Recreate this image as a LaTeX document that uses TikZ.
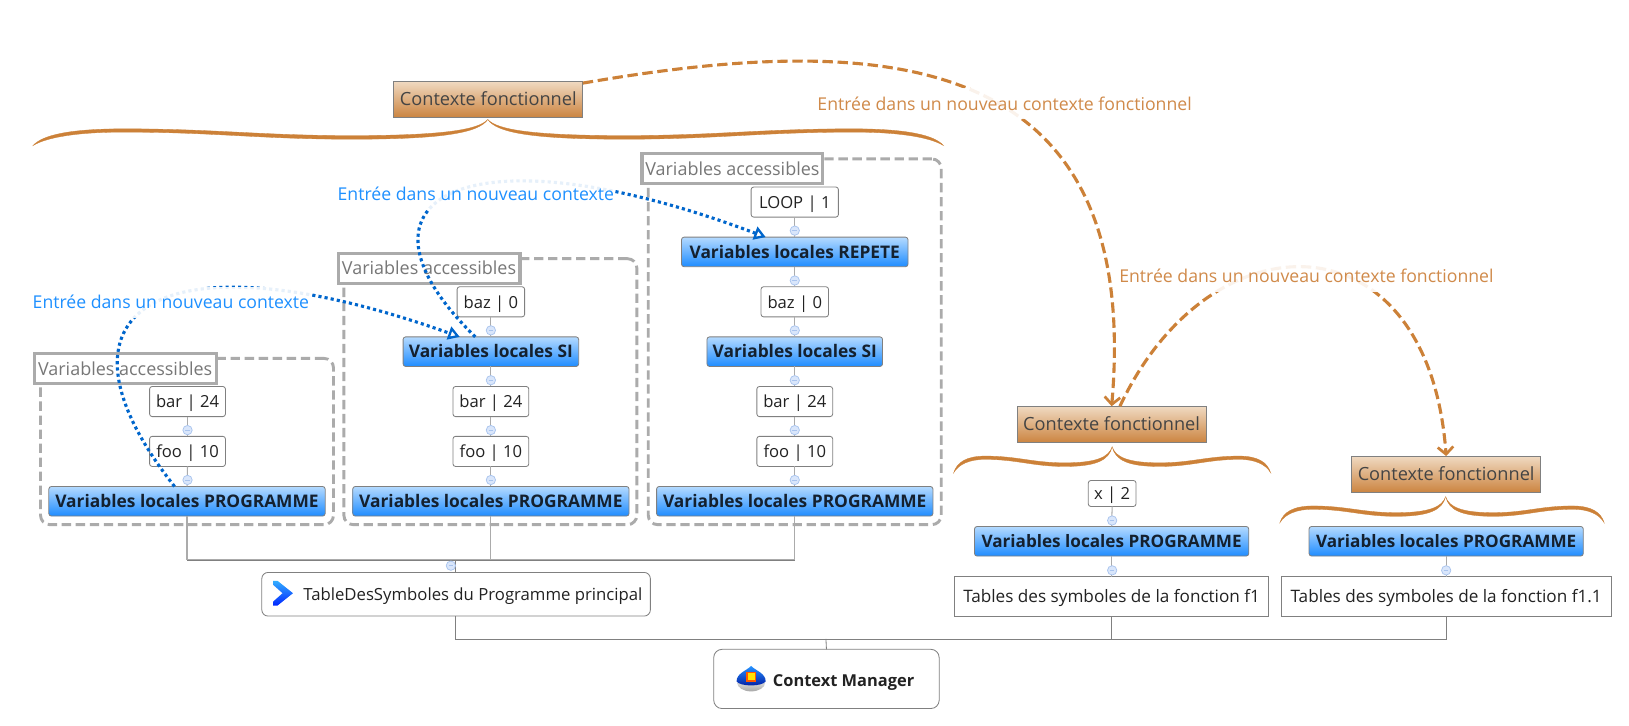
\documentclass[tikz,border=0pt]{standalone}
\usepackage{fontspec}
\setmainfont{Open Sans}
\usetikzlibrary{arrows.meta,shapes.geometric}
\definecolor{ctxo}{HTML}{CC8138}
\definecolor{ctxlab}{HTML}{D08A4A}
\definecolor{blued}{HTML}{0066CC}
\definecolor{bluelab}{HTML}{1E90FF}
\definecolor{grp}{HTML}{ABABAB}
\definecolor{bord}{HTML}{808080}
\definecolor{txt}{HTML}{222222}
\definecolor{varT}{HTML}{B4DAFF}
\definecolor{varB}{HTML}{1E8CFF}
\definecolor{varText}{HTML}{14202E}
\definecolor{ctxT}{HTML}{F0DAC2}
\definecolor{ctxB}{HTML}{CB8440}
\definecolor{ctxText}{HTML}{444444}
\definecolor{grpText}{HTML}{777777}
\definecolor{dotB}{HTML}{A9C4EE}
\definecolor{dotF}{HTML}{D9E6FB}
\tikzset{
  every node/.style={inner sep=0pt,outer sep=0pt},
  tx/.style={text height=14pt,text depth=2pt},
  valbox/.style={tx,draw=bord,fill=white,rounded corners=2.5pt,line width=.8pt,text=txt,font=\fontsize{16}{20}\selectfont,minimum height=29pt},
  varbox/.style={tx,draw=bord,rounded corners=2.5pt,line width=.8pt,top color=varT,bottom color=varB,text=varText,font=\fontsize{16.7}{20}\selectfont\bfseries,minimum height=28.5pt},
  ctxbox/.style={tx,draw=bord,line width=.8pt,top color=ctxT,bottom color=ctxB,text=ctxText,font=\fontsize{17.5}{20}\selectfont,minimum height=35pt,minimum width=182pt},
  tabbox/.style={tx,draw=bord,line width=.8pt,fill=white,text=txt,font=\fontsize{16.5}{20}\selectfont,minimum height=38pt},
  grpbox/.style={draw=grp,line width=2.8pt,dash pattern=on 9pt off 4.5pt,rounded corners=9pt},
  grplab/.style={tx,draw=grp,fill=white,line width=3pt,text=grpText,font=\fontsize{17.3}{20}\selectfont,minimum height=29pt},
  link/.style={draw=grp,line width=1pt},
  tree/.style={draw=bord,line width=.8pt},
  dotnode/.style={circle,draw=dotB,fill=dotF,line width=.7pt,minimum size=9pt,
    path picture={\draw[dotB,line width=.7pt] ([xshift=-2.2pt]path picture bounding box.center) -- ([xshift=2.2pt]path picture bounding box.center);}},
  rlabB/.style={tx,fill=white,fill opacity=.9,text opacity=1,text=bluelab,font=\fontsize{17}{20}\selectfont,inner xsep=1pt,minimum height=30pt},
  rlabO/.style={tx,fill=white,fill opacity=.9,text opacity=1,text=ctxlab,font=\fontsize{17}{20}\selectfont,inner xsep=1pt,minimum height=30pt},
  relB/.style={draw=blued,line width=3pt,dash pattern=on 3pt off 3pt,-{Triangle[open,length=11pt,width=13pt,line width=2.2pt]}},
  relO/.style={draw=ctxo,line width=3pt,dash pattern=on 10pt off 4.5pt,-{Straight Barb[length=7pt,width=15pt,line width=2.6pt]}},
  bracefill/.style={fill=ctxo,draw=ctxo,line width=.3pt},
}
\newcommand{\halfbrace}[3]{%
  \begin{scope}[shift={(#1,#2)},xscale=#3]
    \path[bracefill] (0,0) .. controls (.02,10) and (.1,15.5) .. (.3,15.5)
      .. controls (.5,15.5) and (.6,9) .. (.8,9)
      .. controls (.92,9) and (.98,15) .. (1,25)
      .. controls (.97,17) and (.9,12) .. (.8,12.2)
      .. controls (.6,12.2) and (.5,19) .. (.3,19)
      .. controls (.1,19) and (.02,13) .. (0,0) -- cycle;
  \end{scope}}
\begin{document}
\begin{tikzpicture}[x=1pt,y=-1pt]
\useasboundingbox (0,0) rectangle (1568,698);
\fill[white] (0,0) rectangle (1568,698);
% groups
\node[grpbox,minimum width=282pt,minimum height=160pt] (g1) at (180,425) {};
\node[grpbox,minimum width=282pt,minimum height=256pt] (g2) at (472,377) {};
\node[grpbox,minimum width=282pt,minimum height=352pt] (g3) at (765,329) {};
% tree nodes, column 1
\node[valbox,minimum width=73pt] (bar1) at (180.5,386.5) {bar | 24};
\node[valbox,minimum width=73pt] (foo1) at (180.5,434.5) {foo | 10};
\node[varbox,minimum width=266pt] (p1) at (180,482.5) {Variables locales PROGRAMME};
% column 2
\node[valbox,minimum width=65pt] (baz2) at (472.5,290.5) {baz | 0};
\node[varbox,minimum width=169pt] (si2) at (472.5,338.5) {Variables locales SI};
\node[valbox,minimum width=73pt] (bar2) at (472.5,386.5) {bar | 24};
\node[valbox,minimum width=73pt] (foo2) at (472.5,434.5) {foo | 10};
\node[varbox,minimum width=266pt] (p2) at (472.5,482.5) {Variables locales PROGRAMME};
% column 3
\node[valbox,minimum width=84pt] (loop3) at (765,194.5) {LOOP | 1};
\node[varbox,minimum width=218pt] (rep3) at (765,242.5) {Variables locales REPETE};
\node[valbox,minimum width=65pt] (baz3) at (765,290.5) {baz | 0};
\node[varbox,minimum width=169pt] (si3) at (765,338.5) {Variables locales SI};
\node[valbox,minimum width=73pt] (bar3) at (765,386.5) {bar | 24};
\node[valbox,minimum width=73pt] (foo3) at (765,434.5) {foo | 10};
\node[varbox,minimum width=266pt] (p3) at (765,482.5) {Variables locales PROGRAMME};
% table and root
\node[draw=bord,line width=.8pt,fill=white,rounded corners=6pt,minimum width=374pt,minimum height=42pt] (tab0) at (439,572) {};
\node[tx,text=txt,font=\fontsize{16.1}{20}\selectfont,anchor=west] (tab0t) at (292,572) {TableDesSymboles du Programme principal};
\node[draw=bord,line width=.8pt,fill=white,rounded corners=8pt,minimum width=217pt,minimum height=57pt] (cm) at (795.5,653.5) {};
\node[tx,text=txt,font=\fontsize{15.8}{20}\selectfont\bfseries,anchor=west] (cmt) at (744,654.5) {Context Manager};
% right part
\node[valbox,minimum width=46pt,minimum height=25pt] (x1) at (1070.5,475) {x | 2};
\node[varbox,font=\fontsize{16.5}{20}\selectfont\bfseries,minimum width=264pt] (p4) at (1070,521) {Variables locales PROGRAMME};
\node[tabbox,minimum width=302pt] (t4) at (1070,574) {Tables des symboles de la fonction f1};
\node[varbox,font=\fontsize{16.5}{20}\selectfont\bfseries,minimum width=264pt] (p5) at (1392,521) {Variables locales PROGRAMME};
\node[tabbox,minimum width=318pt] (t5) at (1392,574) {Tables des symboles de la fonction f1.1};
% connectors
\coordinate (tj) at (438,539);
\coordinate (cj) at (795,615);
\foreach \a/\b in {bar1/foo1,foo1/p1,baz2/si2,si2/bar2,bar2/foo2,foo2/p2,loop3/rep3,rep3/baz3,baz3/si3,si3/bar3,bar3/foo3,foo3/p3,x1/p4,p4/t4,p5/t5}
  \draw[link] (\a.south) -- (\b.north);
\draw[link] (p1.south) |- (tj);
\draw[link] (p2.south) |- (tj);
\draw[link] (p3.south) |- (tj);
\draw[tree] (tab0.north -| tj) -- (tj);
\draw[tree] (p1.south |- tj) -- (p3.south |- tj);
\draw[tree] (tab0.south -| tj) |- (cj);
\draw[tree] (t4.south) |- (cj);
\draw[tree] (t5.south) |- (cj);
\draw[tree] (cm.north) -- (cj);
% collapse dots
\node[dotnode] (d1) at (180.5,414) {};
\node[dotnode] (d2) at (180.5,462) {};
\node[dotnode] (d3) at (472.5,318) {};
\node[dotnode] (d4) at (472.5,366) {};
\node[dotnode] (d5) at (472.5,414) {};
\node[dotnode] (d6) at (472.5,462) {};
\node[dotnode] (d7) at (765,222) {};
\node[dotnode] (d8) at (765,270) {};
\node[dotnode] (d9) at (765,318) {};
\node[dotnode] (d10) at (765,366) {};
\node[dotnode] (d11) at (765,414) {};
\node[dotnode] (d12) at (765,462) {};
\node[dotnode] (d13) at (434,544.5) {};
\node[dotnode] (d14) at (1070.5,501) {};
\node[dotnode] (d15) at (1070.5,549) {};
\node[dotnode] (d16) at (1392,549) {};
% group labels
\node[grplab,minimum width=175pt] (gl1) at (120.5,355) {Variables accessibles};
\node[grplab,minimum width=175pt] (gl2) at (413,258.5) {Variables accessibles};
\node[grplab,minimum width=174pt] (gl3) at (705,162.5) {Variables accessibles};
% context boxes and braces
\node[ctxbox] (c0) at (470,95.5) {Contexte fonctionnel};
\node[ctxbox] (c1) at (1070,408.5) {Contexte fonctionnel};
\node[ctxbox] (c2) at (1392,456.5) {Contexte fonctionnel};
\halfbrace{469.5}{115}{-437.5}
\halfbrace{469.5}{115}{438.5}
\halfbrace{1070.5}{430}{-152.5}
\halfbrace{1070.5}{430}{152.5}
\halfbrace{1391.5}{478}{-159.5}
\halfbrace{1391.5}{478}{152.5}
% icons
\shade[top color=blue!40!cyan!80!white,bottom color=blue!85!cyan] (263,559) -- (267,559) -- (282,571) -- (267,583) -- (263,583) -- (263,579) -- (272,571) -- (263,563) -- cycle;
\shade[top color=gray!30,bottom color=gray!70] (709.5,657) arc[start angle=180,end angle=360,x radius=13.5pt,y radius=8.5pt] -- cycle;
\shade[top color=blue!50!cyan!85!white,bottom color=blue!60!black!90!cyan] (723,641) .. controls (728,646) and (737,648) .. (737,656) .. controls (733,661) and (713,661) .. (709,656) .. controls (709,648) and (718,646) .. (723,641) -- cycle;
\filldraw[fill=yellow!85!orange,draw=orange!70!red,line width=1pt] (719,647.5) rectangle (727,655.5);
% relationships
\draw[relB] ([xshift=-12pt]p1.north) .. controls (35,300) and (150,220) .. ([xshift=-30pt]si2.north);
\draw[relB] ([xshift=-15pt]si2.north) .. controls (320,190) and (450,120) .. ([xshift=-28pt]rep3.north);
\draw[relO] ([yshift=15.5pt]c0.east) .. controls (850,30) and (1100,45) .. (c1.north);
\draw[relO] ([xshift=8pt]c1.north) .. controls (1165,205) and (1375,205) .. (c2.north);
\node[rlabB] (lb1) at (164.5,291) {Entrée dans un nouveau contexte};
\node[rlabB] (lb2) at (458,187) {Entrée dans un nouveau contexte};
\node[rlabO] (lo1) at (967,100) {Entrée dans un nouveau contexte fonctionnel};
\node[rlabO] (lo2) at (1257.5,266) {Entrée dans un nouveau contexte fonctionnel};
\end{tikzpicture}
\end{document}
